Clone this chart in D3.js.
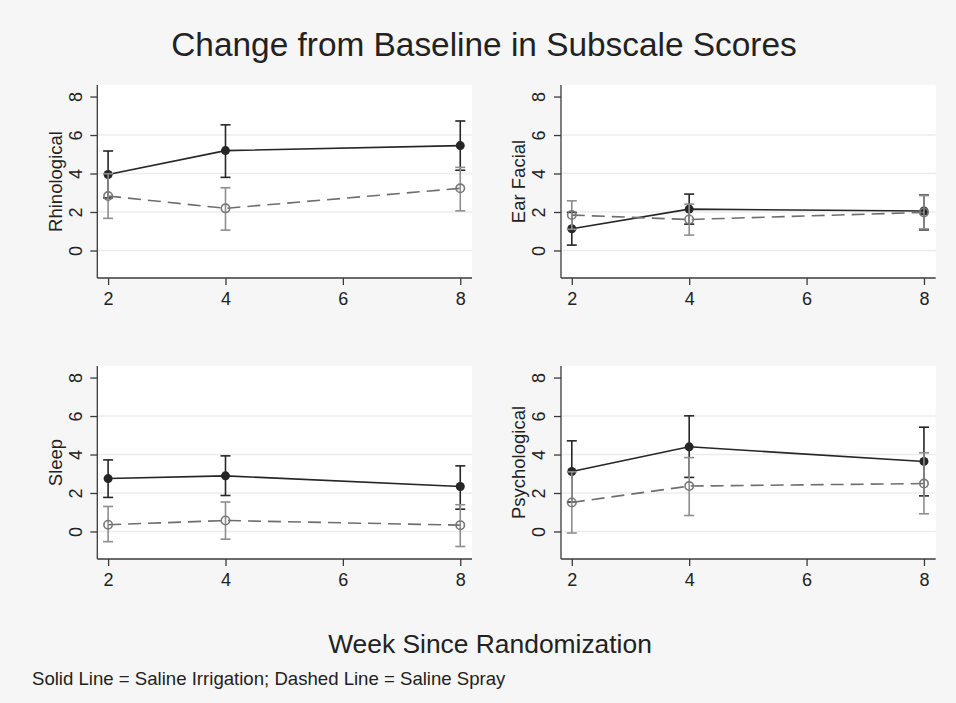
<!DOCTYPE html>
<html>
<head>
<meta charset="utf-8">
<script src="https://cdn.jsdelivr.net/npm/d3@7"></script>
<style>
  html, body { margin: 0; padding: 0; background: #f5f5f5; }
  svg { display: block; font-family: "Liberation Sans", Arial, Helvetica, sans-serif; }
</style>
</head>
<body>
<svg id="chart" width="956" height="703"></svg>
<script>
// ---------------- data ----------------
const weeks = [2, 4, 8];
const subscales = ["Rhinological", "Ear Facial", "Sleep", "Psychological"];
const xTicks = [2, 4, 6, 8];
const yTicks = [0, 2, 4, 6, 8];

// Saline Irrigation (solid line) — mean and 95% CI per subscale (rows) per week (cols)
const irrMean = [[3.95, 5.19, 5.45], [1.13, 2.15, 2.05], [2.75, 2.89, 2.34], [3.12, 4.40, 3.64]];
const irrLo   = [[2.73, 3.80, 4.17], [0.28, 1.37, 1.07], [1.77, 1.87, 1.16], [1.53, 2.81, 1.85]];
const irrHi   = [[5.17, 6.53, 6.73], [1.98, 2.93, 2.88], [3.72, 3.93, 3.41], [4.71, 6.01, 5.42]];

// Saline Spray (dashed line)
const sprMean = [[2.83, 2.19, 3.23], [1.84, 1.61, 1.98], [0.35, 0.57, 0.33], [1.51, 2.36, 2.49]];
const sprLo   = [[1.67, 1.06, 2.06], [1.10, 0.80, 1.12], [-0.53, -0.40, -0.78], [-0.08, 0.83, 0.92]];
const sprHi   = [[3.99, 3.26, 4.32], [2.58, 2.41, 2.85], [1.30, 1.53, 1.39], [3.10, 3.84, 4.09]];

const titleText = "Change from Baseline in Subscale Scores";
const xTitleText = "Week Since Randomization";
const noteText = "Solid Line = Saline Irrigation; Dashed Line = Saline Spray";

// ---------------- layout ----------------
const svg = d3.select("#chart");
const W = 956, H = 703;
svg.append("rect").attr("width", W).attr("height", H).attr("fill", "#f6f6f6");

const panelW = 374.7, panelH = 193;
const panelPos = [
  { x: 97.3, y: 85 },
  { x: 561, y: 85 },
  { x: 97.3, y: 366 },
  { x: 561, y: 366 }
];

const x = d3.scaleLinear().domain([1.816, 8.2]).range([0, panelW]);
const y = d3.scaleLinear().domain([-1.43, 8.6]).range([panelH, 0]);

const solidColor = "#262626";
const sprLineColor = "#6e6e6e";
const sprBarColor = "#8e8e8e";
const sprMarkColor = "#777777";

subscales.forEach((name, i) => {
  const g = svg.append("g").attr("transform", `translate(${panelPos[i].x},${panelPos[i].y})`);

  g.append("rect").attr("width", panelW).attr("height", panelH).attr("fill", "#ffffff");

  // gridlines
  g.selectAll("line.grid").data(yTicks.filter(t => t < 8)).join("line")
    .attr("class", "grid")
    .attr("x1", 0).attr("x2", panelW)
    .attr("y1", d => y(d)).attr("y2", d => y(d))
    .attr("stroke", "#ececec").attr("stroke-width", 1.5);

  // axes
  const yAxis = g.append("g").call(d3.axisLeft(y).tickValues(yTicks).tickFormat(d3.format("d")).tickSize(7).tickSizeOuter(0));
  const xAxis = g.append("g").attr("transform", `translate(0,${panelH})`)
    .call(d3.axisBottom(x).tickValues(xTicks).tickFormat(d3.format("d")).tickSize(7).tickSizeOuter(0));

  [yAxis, xAxis].forEach(ax => {
    ax.attr("font-size", null).attr("font-family", null);
    ax.select(".domain").attr("stroke", "#3a3a3a").attr("stroke-width", 1.3);
    ax.selectAll(".tick line").attr("stroke", "#3a3a3a").attr("stroke-width", 1.3);
    ax.selectAll(".tick text").attr("fill", "#222").style("font-size", "18px")
      .style("font-family", '"Liberation Sans", Arial, sans-serif');
  });
  yAxis.select(".domain").attr("d", `M0,0V${panelH}`);
  xAxis.select(".domain").attr("d", `M0,0H${panelW}`);

  yAxis.selectAll(".tick text")
    .attr("x", null).attr("dy", "0.35em")
    .attr("text-anchor", "middle")
    .attr("transform", "translate(-22,0) rotate(-90)");
  xAxis.selectAll(".tick text").attr("y", 14).attr("dy", "0.71em");

  // axis title
  g.append("text")
    .attr("transform", `translate(-42,${panelH / 2}) rotate(-90)`)
    .attr("dy", "0.35em")
    .attr("text-anchor", "middle")
    .attr("fill", "#222")
    .style("font-size", "18.5px")
    .text(name);

  const line = d3.line().x(d => x(d.w)).y(d => y(d.m));

  const irr = weeks.map((w, j) => ({ w, m: irrMean[i][j], lo: irrLo[i][j], hi: irrHi[i][j] }));
  const spr = weeks.map((w, j) => ({ w, m: sprMean[i][j], lo: sprLo[i][j], hi: sprHi[i][j] }));

  // ---- Irrigation (solid)
  g.append("path").datum(irr).attr("d", line)
    .attr("fill", "none").attr("stroke", solidColor).attr("stroke-width", 1.6);
  const ib = g.append("g");
  ib.selectAll("line.v").data(irr).join("line")
    .attr("x1", d => x(d.w)).attr("x2", d => x(d.w))
    .attr("y1", d => y(d.lo)).attr("y2", d => y(d.hi))
    .attr("stroke", solidColor).attr("stroke-width", 1.6);
  ["lo", "hi"].forEach(k => {
    ib.selectAll("line.c" + k).data(irr).join("line")
      .attr("x1", d => x(d.w) - 5).attr("x2", d => x(d.w) + 5)
      .attr("y1", d => y(d[k])).attr("y2", d => y(d[k]))
      .attr("stroke", solidColor).attr("stroke-width", 1.6);
  });
  g.selectAll("circle.irr").data(irr).join("circle")
    .attr("cx", d => x(d.w)).attr("cy", d => y(d.m)).attr("r", 4.5)
    .attr("fill", solidColor);

  // ---- Spray (dashed)
  g.append("path").datum(spr).attr("d", line)
    .attr("fill", "none").attr("stroke", sprLineColor).attr("stroke-width", 1.6)
    .attr("stroke-dasharray", "13,7");
  const sb = g.append("g");
  sb.selectAll("line.v").data(spr).join("line")
    .attr("x1", d => x(d.w)).attr("x2", d => x(d.w))
    .attr("y1", d => y(d.lo)).attr("y2", d => y(d.hi))
    .attr("stroke", sprBarColor).attr("stroke-width", 1.6);
  ["lo", "hi"].forEach(k => {
    sb.selectAll("line.c" + k).data(spr).join("line")
      .attr("x1", d => x(d.w) - 5).attr("x2", d => x(d.w) + 5)
      .attr("y1", d => y(d[k])).attr("y2", d => y(d[k]))
      .attr("stroke", sprBarColor).attr("stroke-width", 1.6);
  });
  g.selectAll("circle.spr").data(spr).join("circle")
    .attr("cx", d => x(d.w)).attr("cy", d => y(d.m)).attr("r", 4.2)
    .attr("fill", "none").attr("stroke", sprMarkColor).attr("stroke-width", 1.6);
});

// ---------------- titles ----------------
svg.append("text")
  .attr("x", 484).attr("y", 56)
  .attr("text-anchor", "middle").attr("fill", "#222")
  .style("font-size", "33.4px")
  .text(titleText);

svg.append("text")
  .attr("x", 490).attr("y", 653)
  .attr("text-anchor", "middle").attr("fill", "#222")
  .style("font-size", "26.4px")
  .text(xTitleText);

svg.append("text")
  .attr("x", 32).attr("y", 685)
  .attr("text-anchor", "start").attr("fill", "#222")
  .style("font-size", "18.6px")
  .text(noteText);
</script>
</body>
</html>
